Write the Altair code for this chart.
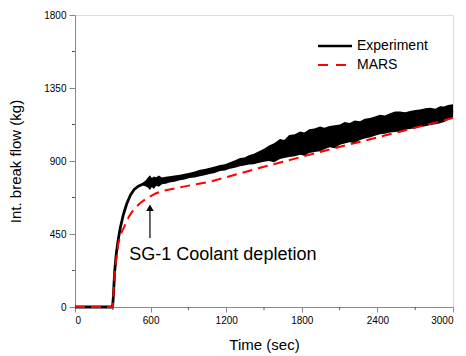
import altair as alt
import pandas as pd

FONT = "Liberation Sans"

# Experiment: rising part + centre of noisy band
exp_t = [0, 298, 304, 315, 328, 344, 360, 384, 410, 440, 470, 503, 540, 570, 595, 620, 650, 690, 750, 833, 910, 992,
         1070, 1151, 1230, 1310, 1380, 1455, 1540, 1627, 1700, 1786, 1860, 1944, 2020, 2103, 2180, 2262, 2340,
         2421, 2500, 2579, 2660, 2738, 2820, 2897, 2950, 3000]
exp_v = [0, 0, 60, 220, 330, 420, 490, 570, 635, 690, 725, 745, 758, 766, 767, 768, 776, 777, 787, 798, 811, 826,
         839, 857, 872, 893, 906, 923, 947, 973, 992, 1010, 1022, 1036, 1050, 1062, 1075, 1088, 1105,
         1125, 1135, 1143, 1153, 1164, 1175, 1185, 1196, 1210]

# Experiment noise envelope (lower / upper), read with its visible spikes
band_t = [540, 560, 580, 595, 610, 625, 645, 665, 690, 720, 750, 790, 833, 870, 910, 950, 992, 1030, 1070, 1110,
          1151, 1190, 1230, 1270, 1310, 1345, 1380, 1420, 1455, 1500, 1540, 1580, 1627, 1660, 1700, 1745,
          1786, 1820, 1860, 1900, 1944, 1980, 2020, 2060, 2103, 2140, 2180, 2220, 2262, 2300, 2340, 2380,
          2421, 2460, 2500, 2540, 2579, 2620, 2660, 2700, 2738, 2780, 2820, 2860, 2897, 2930, 2960, 3000]
band_lo = [748, 745, 735, 722, 740, 728, 748, 742, 756, 760, 768, 772, 782, 786, 795, 798, 806, 812, 820, 826,
           838, 842, 852, 858, 868, 872, 878, 880, 888, 896, 900, 892, 912, 918, 925, 930,
           938, 932, 950, 955, 960, 972, 985, 978, 1000, 1008, 1015, 1010, 1030, 1038, 1045, 1055,
           1065, 1068, 1075, 1078, 1082, 1092, 1098, 1102, 1110, 1114, 1122, 1126, 1132, 1140, 1152, 1172]
band_hi = [768, 780, 800, 812, 795, 805, 800, 810, 798, 803, 806, 810, 815, 822, 828, 836, 846, 850, 858, 866,
           876, 880, 892, 905, 918, 922, 935, 945, 958, 975, 995, 1010, 1035, 1030, 1060, 1065,
           1082, 1075, 1095, 1100, 1112, 1105, 1115, 1120, 1125, 1140, 1135, 1150, 1145, 1160, 1165, 1175,
           1185, 1180, 1195, 1205, 1205, 1200, 1208, 1215, 1218, 1225, 1228, 1222, 1238, 1236, 1245, 1250]

# MARS
mars_t = [0, 300, 304, 317, 344, 370, 397, 430, 463, 516, 569, 640, 701, 860, 1071, 1330, 1455, 1786, 2103,
          2249, 2600, 2990, 3000]
mars_v = [0, 0, 63, 228, 393, 460, 505, 560, 598, 640, 670, 700, 717, 742, 772, 828, 855, 923, 988,
          1015, 1085, 1163, 1165]

x_ticks = [0, 600, 1200, 1800, 2400, 3000]
y_ticks = [0, 450, 900, 1350, 1800]
x_minor = [300, 900, 1500, 2100, 2700]
y_minor = [225, 675, 1125, 1575]

W, H = 378, 292

exp_df = pd.DataFrame({"t": exp_t, "v": exp_v})
band_df = pd.DataFrame({"t": band_t, "lo": band_lo, "hi": band_hi})
mars_df = pd.DataFrame({"t": mars_t, "v": mars_v})

xs = alt.Scale(domain=[0, 3000], nice=False, zero=False)
ys = alt.Scale(domain=[0, 1800], nice=False, zero=False)

xax = alt.Axis(values=x_ticks, title="Time (sec)", grid=False, tickSize=5, labelPadding=3,
               titlePadding=12, format="d", titleFontWeight="normal", titleFontSize=15)
yax = alt.Axis(values=y_ticks, title="Int. break flow (kg)", grid=False, tickSize=6, labelPadding=3,
               titlePadding=20, format="d", titleFontWeight="normal", titleFontSize=15)

band = alt.Chart(band_df).mark_area(color="black", opacity=1).encode(
    x=alt.X("t:Q", scale=xs, axis=xax),
    y=alt.Y("lo:Q", scale=ys, axis=yax),
    y2="hi:Q",
)
exp_line = alt.Chart(exp_df).mark_line(color="black", strokeWidth=2.8).encode(
    x=alt.X("t:Q", scale=xs), y=alt.Y("v:Q", scale=ys)
)
mars_line = alt.Chart(mars_df).mark_line(color="#ff0000", strokeWidth=2, strokeDash=[10, 6]).encode(
    x=alt.X("t:Q", scale=xs), y=alt.Y("v:Q", scale=ys)
)

# Minor ticks
xmin_df = pd.DataFrame({"t": x_minor})
ymin_df = pd.DataFrame({"v": y_minor})
xminor = alt.Chart(xmin_df).mark_rule(color="#555", strokeWidth=1).encode(
    x=alt.X("t:Q", scale=xs), y=alt.value(H), y2=alt.value(H + 3)
)
yminor = alt.Chart(ymin_df).mark_rule(color="#555", strokeWidth=1).encode(
    y=alt.Y("v:Q", scale=ys), x=alt.value(0), x2=alt.value(-3)
)

# Annotation
ann_df = pd.DataFrame({"t": [595], "v0": [425], "v1": [600], "vh": [612], "tt": [431], "vt": [322],
                       "label": ["SG-1 Coolant depletion"]})
arrow_line = alt.Chart(ann_df).mark_rule(color="black", strokeWidth=1.2).encode(
    x=alt.X("t:Q", scale=xs), y=alt.Y("v0:Q", scale=ys), y2="v1:Q"
)
arrow_head = alt.Chart(ann_df).mark_point(shape="triangle-up", filled=True, color="black", size=55,
                                          opacity=1).encode(
    x=alt.X("t:Q", scale=xs), y=alt.Y("vh:Q", scale=ys)
)
ann_text = alt.Chart(ann_df).mark_text(align="left", baseline="middle", fontSize=18, font=FONT,
                                       color="black").encode(
    x=alt.X("tt:Q", scale=xs), y=alt.Y("vt:Q", scale=ys), text="label:N"
)

# Legend (manual)
leg_names = ["Experiment", "MARS"]
l1 = pd.DataFrame({"label": [leg_names[0]]})
l2 = pd.DataFrame({"label": [leg_names[1]]})
leg1_line = alt.Chart(l1).mark_rule(color="black", strokeWidth=2.5).encode(
    x=alt.value(243), x2=alt.value(277), y=alt.value(31)
)
leg2_line = alt.Chart(l2).mark_rule(color="#ff0000", strokeWidth=2, strokeDash=[10, 8]).encode(
    x=alt.value(243), x2=alt.value(277), y=alt.value(50)
)
leg1_text = alt.Chart(l1).mark_text(align="left", baseline="middle", fontSize=14, font=FONT,
                                    color="black").encode(
    x=alt.value(282), y=alt.value(31), text="label:N"
)
leg2_text = alt.Chart(l2).mark_text(align="left", baseline="middle", fontSize=14, font=FONT,
                                    color="black").encode(
    x=alt.value(282), y=alt.value(50), text="label:N"
)

chart = alt.layer(
    band, exp_line, mars_line, xminor, yminor, arrow_line, arrow_head, ann_text,
    leg1_line, leg2_line, leg1_text, leg2_text
).properties(
    width=W, height=H,
    autosize=alt.AutoSizeParams(type="none"),
    padding={"left": 75, "top": 15, "right": 13, "bottom": 49},
).configure_view(
    stroke="#333", strokeWidth=1
).configure_axis(
    domainColor="#555", tickColor="#555", labelColor="#111", titleColor="#111",
    labelFont=FONT, titleFont=FONT, labelFontSize=12, titleFontSize=15, titleFontWeight="normal",
    domainWidth=1.2, tickWidth=1
).configure(background="white")

chart.save("out.html", embed_options={"renderer": "svg", "actions": False})
